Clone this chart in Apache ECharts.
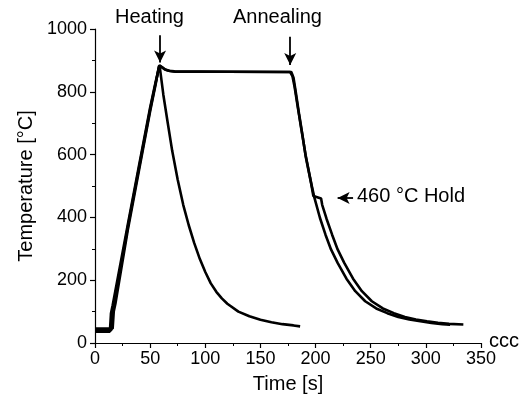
<!DOCTYPE html>
<html><head><meta charset="utf-8">
<script src="https://cdn.jsdelivr.net/npm/echarts@6/dist/echarts.min.js"></script>
<style>html,body{margin:0;padding:0;background:#fff}#c{width:526px;height:405px}</style>
</head><body><div id="c"></div>
<script>
// Time [s], Temperature [°C]
const heating = [[0,36],[13.5,36],[14.5,95],[16,120],[30,382],[40,567],[50,750],[55,832],[58.5,885],[62,790],[66,700],[70,612],[75,520],[80,440],[85,375],[90,318],[95,268],[100,226],[105,190],[110,163],[115,142],[120,125],[130,100],[140,85],[150,74],[160,66],[170,60],[180,56],[186,53]];
const annealing = [[0,46],[16,46],[17,100],[18.5,125],[30,365],[40,552],[50,738],[55,824],[58,882],[60,880],[63,872],[67,867],[72,865],[120,864],[178,863],[180,845],[182,800],[185,730],[188,665],[191,595],[195,525],[199,462],[204,398],[209,345],[214,298],[220,255],[228,205],[236,165],[245,133],[255,110],[265,95],[275,83],[285,75],[295,69],[305,64],[315,60],[322,58]];
const hold460 = [[0,41],[14.8,41],[15.8,98],[17.3,122],[30,374],[40,560],[50,744],[55,828],[58.5,884],[61,878],[64,870],[68,866],[73,864],[120,864],[177,863],[179,850],[181,815],[184,748],[187,683],[191,598],[195,528],[198,468],[199,462],[205,460],[206,440],[210,395],[215,345],[220,298],[226,255],[234,205],[242,165],[251,133],[261,110],[271,95],[281,83],[291,75],[301,69],[311,64],[321,61],[334,59]];
const xTicks = {min:0, max:350, interval:50};
const yTicks = {min:0, max:1000, interval:200};
const arrows = [
  {from:[59,980], to:[59,893]},
  {from:[177,975], to:[177,885]},
  {from:[234,462], to:[220,462]}
];

const font = '"Liberation Sans", Arial, sans-serif';
const chart = echarts.init(document.getElementById('c'), null, {renderer:'canvas'});
const lineStyle = {color:'#000', width:2.6};
function ser(name, data, extra){
  return Object.assign({name, type:'line', data, showSymbol:false, symbol:'none', lineStyle, animation:false, z:3}, extra||{});
}
const axisCommon = {
  type:'value', nameLocation:'middle',
  nameTextStyle:{fontFamily:font, fontSize:20, color:'#000'},
  axisLine:{show:true, onZero:false, lineStyle:{color:'#000', width:1.2}},
  axisTick:{show:true, inside:false, length:5, lineStyle:{color:'#000', width:1.2}},
  minorTick:{show:true, splitNumber:2, length:3, lineStyle:{color:'#000', width:1}},
  splitLine:{show:false}
};
chart.setOption({
  animation:false,
  backgroundColor:'#fff',
  grid:{left:95, right:45, top:29, bottom:62, containLabel:false},
  xAxis:Object.assign({}, axisCommon, {min:xTicks.min, max:xTicks.max, interval:xTicks.interval,
    name:'Time [s]', nameGap:31,
    axisLabel:{fontFamily:font, fontSize:18, color:'#000', margin:7, formatter:v=>String(v)}}),
  yAxis:Object.assign({}, axisCommon, {min:yTicks.min, max:yTicks.max, interval:yTicks.interval,
    name:'Temperature [°C]', nameGap:55, nameRotate:90,
    axisLabel:{fontFamily:font, fontSize:18, color:'#000', margin:8, formatter:v=>String(v)}}),
  series:[
    ser('Heating', heating, {
      markLine:{silent:true, symbol:['none','arrow'], symbolSize:[9,12],
        lineStyle:{color:'#000', width:1.8, type:'solid'}, label:{show:false},
        data: arrows.map(a=>[{coord:a.from},{coord:a.to}])}
    }),
    ser('Annealing', annealing),
    ser('460 °C Hold', hold460)
  ],
  graphic:[
    {type:'text', left:115, top:7, style:{text:'Heating', font:'20px '+font, fill:'#000'}},
    {type:'text', left:233, top:7, style:{text:'Annealing', font:'20px '+font, fill:'#000'}},
    {type:'text', left:357, top:186, style:{text:'460 °C Hold', font:'20px '+font, fill:'#000'}},
    {type:'text', left:489, top:331, style:{text:'ccc', font:'20px '+font, fill:'#000'}}
  ]
});
</script></body></html>
